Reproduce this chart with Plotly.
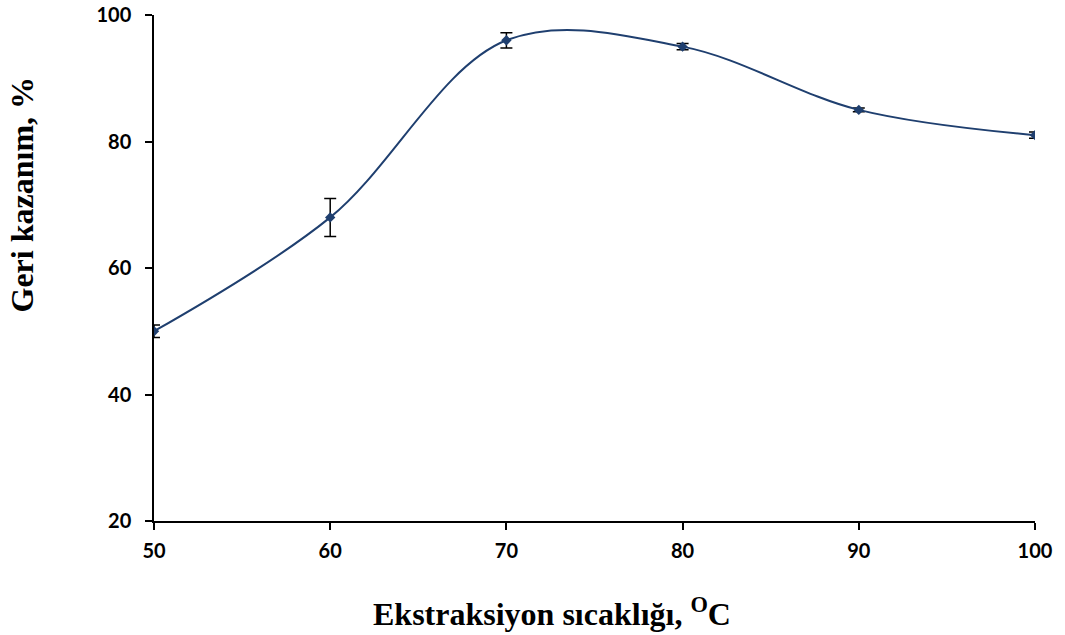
import plotly.graph_objects as go

# Extraction temperature (°C) vs. recovery (%)
temperature = [50, 60, 70, 80, 90, 100]
recovery = [50, 68, 96, 95, 85, 81]
recovery_err = [1.0, 3.0, 1.2, 0.5, 0.3, 0.5]

x_ticks = [50, 60, 70, 80, 90, 100]
y_ticks = [20, 40, 60, 80, 100]

line_color = "#1F3F6F"

fig = go.Figure()
fig.add_trace(go.Scatter(
    x=temperature,
    y=recovery,
    mode="lines+markers",
    line=dict(color=line_color, width=2, shape="spline", smoothing=1.0),
    marker=dict(symbol="diamond", size=8, color=line_color),
    error_y=dict(type="data", array=recovery_err, visible=True,
                 color="black", thickness=1.5, width=6),
    showlegend=False,
))

axis_font = dict(family="Lato, Arial, sans-serif", size=20, color="black",
                 weight="bold")

fig.update_xaxes(
    range=[50, 100], tickvals=x_ticks, ticks="outside", ticklen=7,
    tickwidth=1.5, tickcolor="black", showline=True, linecolor="black",
    linewidth=1.5, showgrid=False, zeroline=False, tickfont=axis_font,
    ticklabelstandoff=4, automargin=False,
)
fig.update_yaxes(
    range=[20, 100], tickvals=y_ticks, ticks="outside", ticklen=7,
    tickwidth=1.5, tickcolor="black", showline=True, linecolor="black",
    linewidth=1.5, showgrid=False, zeroline=False, tickfont=axis_font,
    ticklabelstandoff=10, automargin=False,
)

title_font = dict(family="Liberation Serif, Times New Roman, serif",
                  size=32, color="black")

fig.update_layout(
    width=1065, height=635,
    margin=dict(l=154, r=30, t=15, b=114, autoexpand=False),
    paper_bgcolor="white", plot_bgcolor="white",
    annotations=[
        dict(text="<b>Ekstraksiyon sıcaklığı, <sup>O</sup>C</b>",
             xref="paper", yref="paper", x=0.452, y=-0.18,
             xanchor="center", yanchor="middle", showarrow=False,
             font=title_font),
        dict(text="<b>Geri kazanım, %</b>",
             xref="paper", yref="paper", x=-0.15, y=0.645,
             xanchor="center", yanchor="middle", showarrow=False,
             textangle=-90, font=title_font),
    ],
)

fig.write_html("out.html")
